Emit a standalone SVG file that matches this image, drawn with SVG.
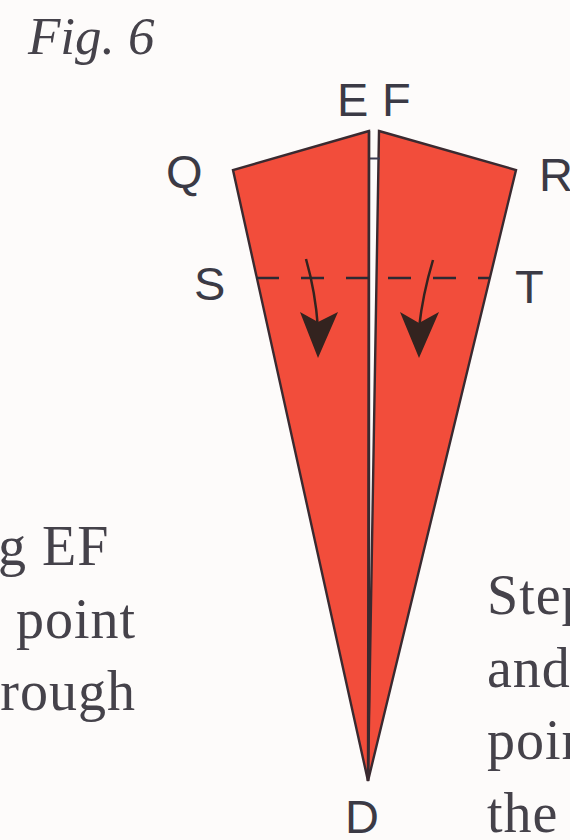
<svg xmlns="http://www.w3.org/2000/svg" width="570" height="840" viewBox="0 0 570 840">
<style>
.flap{fill:#f24d3b;stroke:#3a2a30;stroke-width:2.4;stroke-linejoin:miter}
.lab{font-family:"Liberation Sans",Arial,sans-serif;font-size:47px;fill:#3b3a45}
.body{font-family:"Liberation Serif","Times New Roman",serif;font-size:56px;letter-spacing:1px;fill:#45424a}
.fold{fill:none;stroke:#2c2a33;stroke-width:2.4;stroke-dasharray:23 22}
.arr{fill:none;stroke:#33231f;stroke-width:2.5}
.head{fill:#33231f}
.edge{fill:none;stroke:#3a2a30;stroke-width:2.4}
</style>
<rect width="570" height="840" fill="#fdfbfa"/>
<text x="28" y="54" style="font-family:'Liberation Serif',serif;font-style:italic;font-size:53px;fill:#45424a">Fig. 6</text>
<g id="text-left">
<text class="body" x="-2" y="565">g EF</text>
<text class="body" x="136" y="638" text-anchor="end">point</text>
<text class="body" x="136" y="710" text-anchor="end">rough</text>
</g>
<g id="text-right">
<text class="body" x="487" y="614">Step</text>
<text class="body" x="487" y="687">and</text>
<text class="body" x="487" y="759">poin</text>
<text class="body" x="487" y="832">the</text>
</g>
<g id="flap-left"><polygon class="flap" points="369,131 233,170 368,781"/></g>
<g id="flap-right"><polygon class="flap" points="379,131 516,170 368,781"/></g>
<g id="connectors">
<path d="M368,158.500H380" stroke="#3a3a50" stroke-width="2" fill="none"/>
<path d="M369,131V700L368,781" class="edge"/>
<path d="M256,278H369" class="fold"/>
<path d="M388,278H490" class="fold"/>
<path d="M306,259C312,280 316,300 318,328" class="arr"/>
<polygon class="head" points="300,312 318,322 338,312 318,358"/>
<path d="M433,260C427,280 422,300 419,328" class="arr"/>
<polygon class="head" points="400,312 419,323 439,312 419,358"/>
</g>
<g id="label-E"><text class="lab" x="337" y="116">E</text></g>
<g id="label-F"><text class="lab" x="382" y="116">F</text></g>
<g id="label-Q"><text class="lab" x="166" y="188">Q</text></g>
<g id="label-R"><text class="lab" x="539" y="191">R</text></g>
<g id="label-S"><text class="lab" x="194" y="300">S</text></g>
<g id="label-T"><text class="lab" x="515" y="303">T</text></g>
<g id="label-D"><text class="lab" x="345" y="833">D</text></g>
</svg>
